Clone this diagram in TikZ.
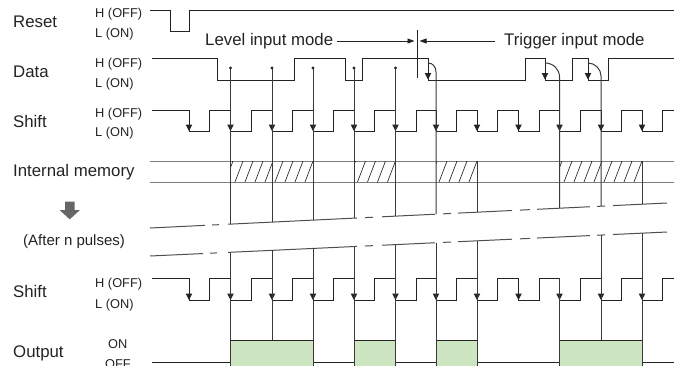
\documentclass[tikz,border=0pt]{standalone}
\usepackage{fontspec}
\setmainfont{Liberation Sans}
\usetikzlibrary{arrows.meta}
\definecolor{outgreen}{RGB}{206,229,194}
\definecolor{ink}{RGB}{35,35,35}
\definecolor{memgray}{RGB}{125,125,125}
\pgfmathdeclarefunction{yU}{1}{\pgfmathparse{228-25*(#1-150)/517}}
\pgfmathdeclarefunction{yL}{1}{\pgfmathparse{256-24*(#1-150)/517}}
\begin{document}
\begin{tikzpicture}[x=1pt,y=-1pt,
  wave/.style={draw=ink, line width=1pt},
  vline/.style={draw=ink!90, line width=1pt},
  memline/.style={draw=memgray, line width=1pt},
  brkline/.style={draw=ink!80, line width=1pt},
  hatchline/.style={draw=ink, line width=0.65pt},
  tip/.style={fill=ink},
  lab/.style={anchor=base west, inner sep=0pt, font=\fontsize{16.8}{18}\selectfont, text=ink},
  slab/.style={anchor=base west, inner sep=0pt, font=\fontsize{12.8}{14}\selectfont, text=ink},
  mlab/.style={anchor=base west, inner sep=0pt, font=\fontsize{15}{16}\selectfont, text=ink},
  modearrow/.style={draw=ink, line width=0.9pt, -{Triangle[length=7pt,width=5pt]}}
]
\useasboundingbox (0,0) rectangle (674,365);
\def\falls{189,230.5,272,313,354,395.5,436,477,518.5,559.5,601,642}

% ---------- labels ----------
\node[lab] (lreset) at (13,27) {Reset};
\node[slab] (rh) at (95,17.5) {H (OFF)};
\node[slab] (rl) at (95,37) {L (ON)};
\node[lab] (ldata) at (13,77) {Data};
\node[slab] (dh) at (95,67) {H (OFF)};
\node[slab] (dl) at (95,87) {L (ON)};
\node[lab] (lshift) at (13,127) {Shift};
\node[slab] (sh) at (95,117.3) {H (OFF)};
\node[slab] (sl) at (95,136) {L (ON)};
\node[lab] (lmem) at (13,176.7) {Internal memory};
\node[mlab] (lafter) at (23,245.2) {(After n pulses)};
\node[lab] (lshift2) at (13,297.5) {Shift};
\node[slab] (sh2) at (95,287) {H (OFF)};
\node[slab] (sl2) at (95,308) {L (ON)};
\node[lab] (lout) at (13,357) {Output};
\node[slab] (on) at (108,348) {ON};
\node[slab] (off) at (105,368.5) {OFF};

% big down arrow
\fill[black!60] (65,201.7) -- (74.5,201.7) -- (74.5,210) -- (80,210) -- (69.7,219.3) -- (59.5,210) -- (65,210) -- cycle;

% ---------- mode annotation ----------
\node[lab] (lvl) at (205,45.5) {Level input mode};
\node[lab] (trg) at (504,45.5) {Trigger input mode};
\coordinate (divtop) at (417,30);
\coordinate (divbot) at (417,78);
\draw[wave, line width=0.9pt] (divtop) -- (divbot);
\draw[modearrow] (337,41) -- (414.5,41);
\draw[modearrow] (495,41) -- (419.5,41);

% ---------- Reset ----------
\draw[wave] (150,10) -- (170,10) -- (170,31) -- (189,31) -- (189,10) -- (674,10);

% ---------- Data ----------
\draw[wave] (152,58) -- (217,58) -- (217,80) -- (294,80) -- (294,58) -- (345,58) -- (345,80)
  -- (362,80) -- (362,58) -- (428,58) -- (428,80) -- (525,80) -- (525,58) -- (545,58)
  -- (545,80) -- (572,80) -- (572,58) -- (588,58) -- (588,80) -- (608,80) -- (608,58) -- (674,58);
\foreach \f in {428,545,588}
  \fill[tip] ({\f-3.3},73) -- ({\f+3.3},73) -- (\f,79.5) -- cycle;

% ---------- Shift (top) ----------
\draw[wave] (152,110) \foreach \f in \falls { -- (\f,110) -- (\f,131) -- ({\f+20.5},131) -- ({\f+20.5},110) } -- (674,110);
\foreach \f in \falls
  \fill[tip] ({\f-3.3},124.5) -- ({\f+3.3},124.5) -- (\f,131) -- cycle;

% ---------- Internal memory ----------
\draw[memline] (150,161) -- (674,161);
\draw[memline] (150,182) -- (674,182);
\foreach \xl/\xr/\n in {230.5/313/9, 354/395.5/5, 436/477/5, 559.5/642/9}{
  \begin{scope}
    \clip (\xl,161) rectangle (\xr,182);
    \foreach \k in {0,...,\n}
      \draw[hatchline] ({\xr-8-10*\k},182) -- ({\xr-10*\k},161);
  \end{scope}
}

% ---------- break lines ----------
\foreach \a/\b in {150/205,212/219,228/357,365/373,382/435,443/451,458/512,520/530,537/590,597/605,613/667}
  \draw[brkline] (\a,{yU(\a)}) -- (\b,{yU(\b)});
\foreach \a/\b in {150/203,210/217,228/357,365/373,382/435,443/451,458/512,520/530,537/590,597/605,613/667}
  \draw[brkline] (\a,{yL(\a)}) -- (\b,{yL(\b)});

% ---------- vertical lines, top part ----------
\foreach \x in {230.5,272,313,354,395.5}{
  \fill[ink] (\x,68) circle[radius=1.7];
  \draw[vline] (\x,68) -- (\x,{yU(\x)});
}
\draw[vline] (428,63) .. controls (433,63) and (436,67) .. (436,72) -- (436,{yU(436)});
\draw[vline] (545,63) .. controls (553,63) and (559.5,69) .. (559.5,77) -- (559.5,{yU(559.5)});
\draw[vline] (588,63) .. controls (595,63) and (601,69) .. (601,76) -- (601,{yU(601)});
\draw[vline] (477,161) -- (477,{yU(477)});
\draw[vline] (642,161) -- (642,{yU(642)});

% ---------- Shift (bottom) ----------
\draw[wave] (152,278) \foreach \f in \falls { -- (\f,278) -- (\f,300) -- ({\f+20.5},300) -- ({\f+20.5},278) } -- (674,278);
\foreach \f in \falls
  \fill[tip] ({\f-3.3},293.5) -- ({\f+3.3},293.5) -- (\f,300) -- cycle;

% ---------- Output ----------
\foreach \a/\b in {230.5/313, 354/395.5, 436/477, 559.5/642}{
  \fill[outgreen] (\a,340) rectangle (\b,366);
  \draw[wave] (\a,340) -- (\b,340);
}
\foreach \a/\b in {152/230.5, 313/354, 395.5/436, 477/559.5, 642/674}
  \draw[wave] (\a,362) -- (\b,362);

% ---------- vertical lines, bottom part ----------
\foreach \x/\e in {230.5/366, 272/340, 313/366, 354/366, 395.5/366, 436/366, 477/366, 601/340, 642/366}
  \draw[vline] (\x,{yL(\x)}) -- (\x,\e);
\draw[vline] (559.5,278) -- (559.5,366);
\end{tikzpicture}
\end{document}
